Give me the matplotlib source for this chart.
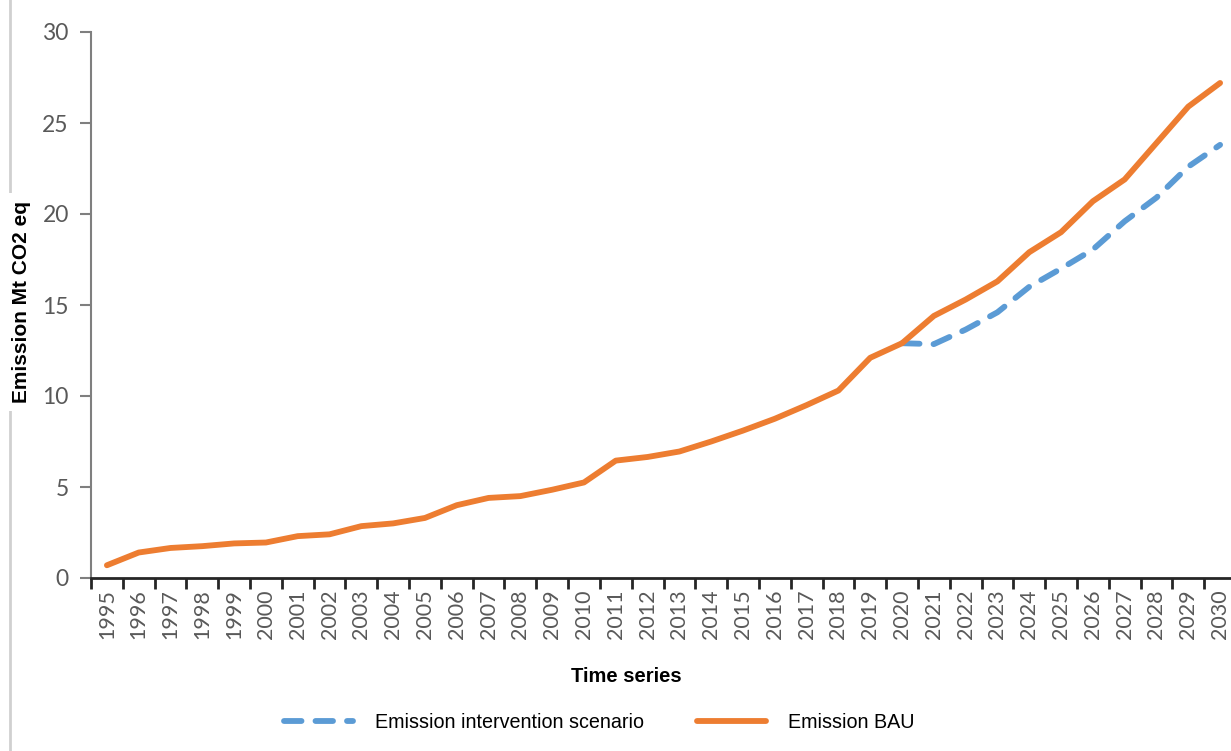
import matplotlib
matplotlib.use("Agg")
import matplotlib.pyplot as plt
from matplotlib import font_manager
from matplotlib.lines import Line2D

years = list(range(1995, 2031))
bau = [0.7, 1.4, 1.65, 1.75, 1.9, 1.95, 2.3, 2.4, 2.85, 3.0,
       3.3, 4.0, 4.4, 4.5, 4.85, 5.25, 6.45, 6.65, 6.95, 7.5,
       8.1, 8.75, 9.5, 10.3, 12.1, 12.9, 14.4, 15.3, 16.3, 17.9,
       19.0, 20.7, 21.9, 23.9, 25.9, 27.2]
interv_years = list(range(2020, 2031))
interv = [12.9, 12.85, 13.65, 14.6, 16.0, 17.0, 18.05, 19.6, 20.9, 22.6, 23.8]
y_ticks = [0, 5, 10, 15, 20, 25, 30]

names = {f.name for f in font_manager.fontManager.ttflist}
narrow = 'Liberation Sans Narrow' if 'Liberation Sans Narrow' in names else 'Liberation Sans'
tick_font = 'Lato'

W, H = 1231, 751
fig = plt.figure(figsize=(W / 100, H / 100), dpi=100)
ax = fig.add_axes([91 / W, (H - 578) / H, 1145 / W, (578 - 32) / H])

xi = [years.index(y) for y in years]
xi_int = [years.index(y) for y in interv_years]

ax.plot(xi_int, interv, color='#5B9BD5', lw=4.2, dashes=(3.0, 2.4),
        dash_capstyle='round', solid_capstyle='round', zorder=2,
        label='Emission intervention scenario')
ax.plot(xi, bau, color='#ED7D31', lw=4.2, solid_capstyle='round',
        solid_joinstyle='round', zorder=3, label='Emission BAU')

ax.set_xlim(-0.5, len(years) - 0.5)
ax.set_ylim(0, 30)
ax.set_yticks(y_ticks)
ax.set_yticklabels([str(v) for v in y_ticks], fontsize=16.5, color='#595959', family=tick_font)
ax.set_xticks([i for i in range(len(years))])
ax.set_xticklabels([str(y) for y in years], rotation=90, fontsize=15.5,
                   color='#595959', family=tick_font)
ax.set_xticks([i - 0.5 for i in range(len(years) + 1)], minor=True)
ax.tick_params(axis='x', which='major', length=0, pad=8)
ax.tick_params(axis='x', which='minor', length=8, width=2, color='#262626')
ax.tick_params(axis='y', length=8, width=1.5, color='#7f7f7f', pad=8)

for s in ['top', 'right']:
    ax.spines[s].set_visible(False)
ax.spines['left'].set_color('#7f7f7f')
ax.spines['left'].set_linewidth(1.5)
ax.spines['bottom'].set_color('#262626')
ax.spines['bottom'].set_linewidth(2)

# left border line of the frame
fig.add_artist(Line2D([10 / W, 10 / W], [0, 1], color='#d0d0d0', lw=2))

fig.text(22 / W, 1 - 302 / H, 'Emission Mt CO2 eq', rotation=90, ha='center', va='center',
         fontsize=15, fontweight='bold', family=narrow,
         bbox=dict(facecolor='white', edgecolor='none', pad=6))

fig.text(626 / W, 1 - 677 / H, 'Time series', ha='center', va='center',
         fontsize=14.5, fontweight='bold', family=narrow)

handles, labels = ax.get_legend_handles_labels()
leg = fig.legend(handles, labels, loc='center', bbox_to_anchor=(599 / W, 1 - 722 / H),
                 ncol=2, frameon=False, handlelength=3.5, handletextpad=1.1,
                 columnspacing=2.7, prop={'family': narrow, 'size': 14.2})

fig.savefig('out.png', dpi=100, facecolor='white')
